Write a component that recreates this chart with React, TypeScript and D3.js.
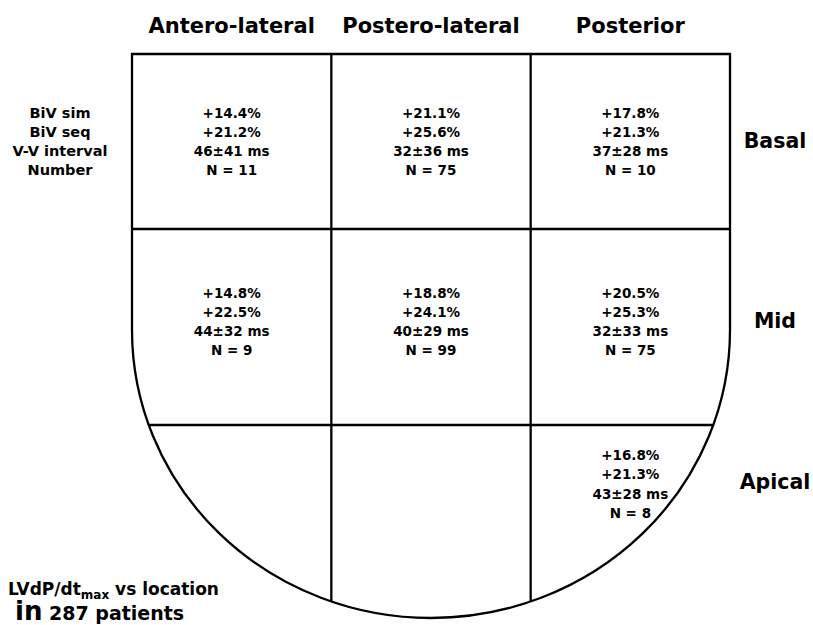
import { useEffect, useRef } from 'react';
import * as d3 from 'd3';

// LV wall regions and the values in each cell (null = no data)
const columns = ['Antero-lateral', 'Postero-lateral', 'Posterior'];
const rows = ['Basal', 'Mid', 'Apical'];
const legendLines = ['BiV sim', 'BiV seq', 'V-V interval', 'Number'];

const bivSim = [
    [14.4, 21.1, 17.8],
    [14.8, 18.8, 20.5],
    [null, null, 16.8],
];
const bivSeq = [
    [21.2, 25.6, 21.3],
    [22.5, 24.1, 25.3],
    [null, null, 21.3],
];
const vvMean = [
    [46, 32, 37],
    [44, 40, 32],
    [null, null, 43],
];
const vvSd = [
    [41, 36, 28],
    [32, 29, 33],
    [null, null, 28],
];
const counts = [
    [11, 75, 10],
    [9, 99, 75],
    [null, null, 8],
];

const FONT = '"DejaVu Sans", Verdana, sans-serif';

export default function App() {
    const ref = useRef<SVGSVGElement | null>(null);

    useEffect(() => {
        document.body.style.margin = '0';
        const width = 813;
        const height = 625;

        const svg = d3.select(ref.current);
        svg.selectAll('*').remove();
        svg.attr('viewBox', `0 0 ${width} ${height}`);

        const left = 132;
        const right = 730;
        const top = 54;
        const x = d3.scaleBand<string>().domain(columns).range([left, right]);

        // row boundaries; last row is cut off by the apex ellipse
        const rowTop = [54, 229, 425];
        const firstBaseline = [117.5, 297.5, 460];
        const labelBaseline = [148, 328, 489];
        const lineGap = 19.3;

        const cx = (left + right) / 2;
        const rx = (right - left) / 2;
        const cy = 330;
        const ry = 288;
        const ellY = (px: number) => cy + ry * Math.sqrt(Math.max(0, 1 - ((px - cx) / rx) ** 2));
        const ellX = (py: number) =>
            py <= cy ? rx : rx * Math.sqrt(Math.max(0, 1 - ((py - cy) / ry) ** 2));

        const g = svg.append('g');

        // === Outline ===
        const outline = d3.path();
        outline.moveTo(left, top);
        outline.lineTo(right, top);
        outline.lineTo(right, cy);
        g.append('path')
            .attr('d', `${outline.toString()} A${rx},${ry} 0 0 1 ${left},${cy} Z`)
            .attr('fill', 'none')
            .attr('stroke', '#000')
            .attr('stroke-width', 2.3);

        // === Inner vertical lines ===
        const inner = columns.slice(1).map((c) => x(c)!);
        g.selectAll('line.v')
            .data(inner)
            .enter()
            .append('line')
            .attr('x1', (d) => d)
            .attr('x2', (d) => d)
            .attr('y1', top)
            .attr('y2', (d) => ellY(d))
            .attr('stroke', '#000')
            .attr('stroke-width', 2.3);

        // === Inner horizontal lines ===
        g.selectAll('line.h')
            .data(rowTop.slice(1))
            .enter()
            .append('line')
            .attr('x1', (d) => cx - ellX(d))
            .attr('x2', (d) => cx + ellX(d))
            .attr('y1', (d) => d)
            .attr('y2', (d) => d)
            .attr('stroke', '#000')
            .attr('stroke-width', 2.3);

        // === Column headers ===
        g.selectAll('text.col')
            .data(columns)
            .enter()
            .append('text')
            .attr('x', (d) => x(d)! + x.bandwidth() / 2)
            .attr('y', 33)
            .attr('text-anchor', 'middle')
            .attr('font-family', FONT)
            .attr('font-weight', 'bold')
            .attr('font-size', '21px')
            .text((d) => d);

        // === Row labels ===
        g.selectAll('text.row')
            .data(rows)
            .enter()
            .append('text')
            .attr('x', 775)
            .attr('y', (_, i) => labelBaseline[i])
            .attr('text-anchor', 'middle')
            .attr('font-family', FONT)
            .attr('font-weight', 'bold')
            .attr('font-size', '20.5px')
            .text((d) => d);

        // === Cell values ===
        const fmt = d3.format('.1f');
        rows.forEach((_, r) => {
            columns.forEach((col, c) => {
                if (counts[r][c] == null) return;
                const lines = [
                    `+${fmt(bivSim[r][c]!)}%`,
                    `+${fmt(bivSeq[r][c]!)}%`,
                    `${vvMean[r][c]}±${vvSd[r][c]} ms`,
                    `N = ${counts[r][c]}`,
                ];
                g.append('g')
                    .selectAll('text')
                    .data(lines)
                    .enter()
                    .append('text')
                    .attr('x', x(col)! + x.bandwidth() / 2)
                    .attr('y', (_, i) => firstBaseline[r] + i * lineGap)
                    .attr('text-anchor', 'middle')
                    .attr('font-family', FONT)
                    .attr('font-weight', 'bold')
                    .attr('font-size', '13.5px')
                    .text((d) => d);
            });
        });

        // === Legend of cell lines ===
        g.selectAll('text.leg')
            .data(legendLines)
            .enter()
            .append('text')
            .attr('x', 60)
            .attr('y', (_, i) => firstBaseline[0] + i * lineGap)
            .attr('text-anchor', 'middle')
            .attr('font-family', FONT)
            .attr('font-weight', 'bold')
            .attr('font-size', '14.5px')
            .text((d) => d);

        // === Caption ===
        const cap1 = g.append('text')
            .attr('x', 8)
            .attr('y', 595)
            .attr('font-family', FONT)
            .attr('font-weight', 'bold')
            .attr('font-size', '17px');
        cap1.append('tspan').text('LVdP/dt');
        cap1.append('tspan').attr('font-size', '12px').attr('dy', 4).text('max');
        cap1.append('tspan').attr('dy', -4).text(' vs location');

        const cap2 = g.append('text')
            .attr('x', 15)
            .attr('y', 620)
            .attr('font-family', FONT)
            .attr('font-weight', 'bold');
        cap2.append('tspan').attr('font-size', '26px').text('in');
        cap2.append('tspan').attr('font-size', '19px').text(' 287 patients');
    }, []);

    return <svg ref={ref} width={813} height={625} style={{ display: 'block' }} />;
}
